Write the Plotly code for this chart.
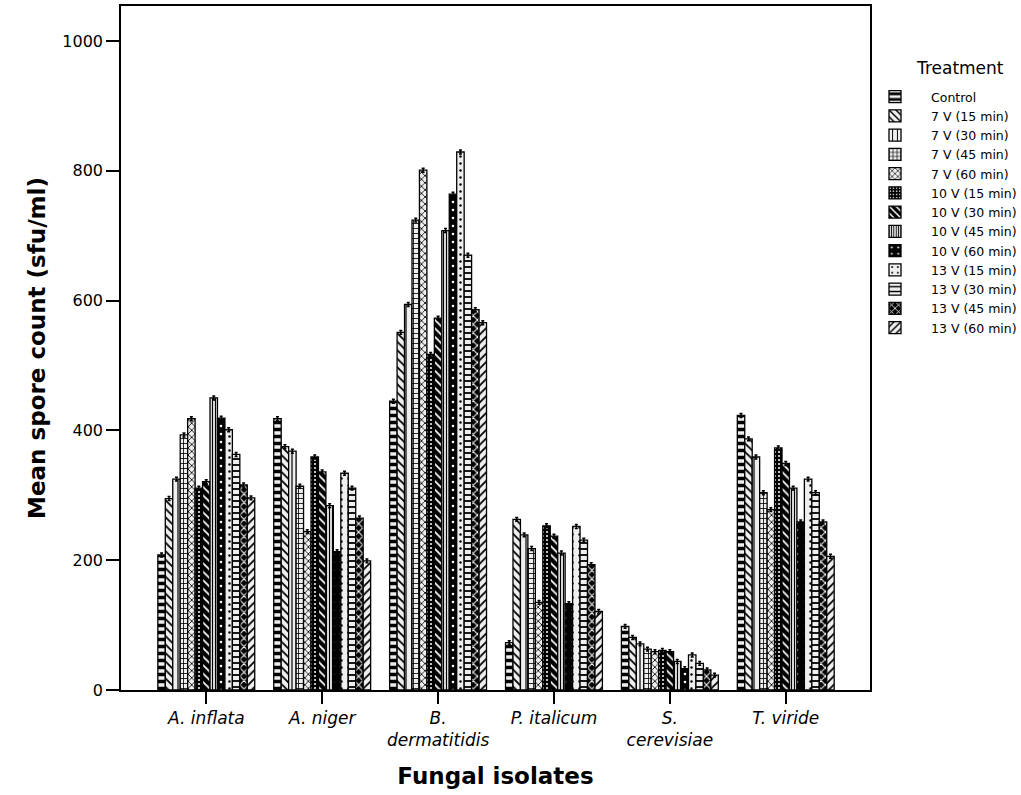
import plotly.graph_objects as go

categories = ["<i>A. inflata</i>", "<i>A. niger</i>", "<i>B.<br>dermatitidis</i>",
              "<i>P. italicum</i>", "<i>S.<br>cerevisiae</i>", "<i>T. viride</i>"]

treatments = ["Control", "7 V (15 min)", "7 V (30 min)", "7 V (45 min)", "7 V (60 min)",
              "10 V (15 min)", "10 V (30 min)", "10 V (45 min)", "10 V (60 min)",
              "13 V (15 min)", "13 V (30 min)", "13 V (45 min)", "13 V (60 min)"]

# values per treatment, in category order
control = [208, 418, 445, 73, 98, 423]
v7_15 = [295, 375, 551, 263, 81, 387]
v7_30 = [325, 368, 594, 239, 71, 359]
v7_45 = [393, 314, 724, 218, 63, 304]
v7_60 = [418, 244, 801, 135, 59, 278]
v10_15 = [311, 359, 517, 253, 61, 373]
v10_30 = [321, 336, 573, 237, 59, 349]
v10_45 = [450, 284, 708, 211, 44, 311]
v10_60 = [419, 213, 764, 133, 33, 259]
v13_15 = [401, 334, 829, 252, 54, 325]
v13_30 = [363, 311, 670, 231, 41, 304]
v13_45 = [316, 265, 586, 193, 31, 259]
v13_60 = [296, 199, 566, 121, 23, 206]

errors = [3, 3, 3, 3, 3, 3]

series = [control, v7_15, v7_30, v7_45, v7_60, v10_15, v10_30, v10_45, v10_60,
          v13_15, v13_30, v13_45, v13_60]

LIGHT = "#efefef"
patterns = [
    dict(shape="-", bgcolor=LIGHT, fgcolor="black", size=7, solidity=0.5),
    dict(shape="\\", bgcolor=LIGHT, fgcolor="black", size=6, solidity=0.3),
    dict(shape="|", bgcolor=LIGHT, fgcolor="black", size=6, solidity=0.2),
    dict(shape="+", bgcolor=LIGHT, fgcolor="black", size=5, solidity=0.3),
    dict(shape="x", bgcolor=LIGHT, fgcolor="black", size=5, solidity=0.3),
    dict(shape=".", bgcolor="black", fgcolor="white", size=4, solidity=0.2),
    dict(shape="\\", bgcolor="black", fgcolor="white", size=6, solidity=0.3),
    dict(shape="|", bgcolor=LIGHT, fgcolor="black", size=3, solidity=0.4),
    dict(shape=".", bgcolor="black", fgcolor="white", size=8, solidity=0.08),
    dict(shape=".", bgcolor=LIGHT, fgcolor="black", size=7, solidity=0.1),
    dict(shape="-", bgcolor=LIGHT, fgcolor="black", size=6, solidity=0.3),
    dict(shape="x", bgcolor="black", fgcolor="white", size=6, solidity=0.3),
    dict(shape="/", bgcolor=LIGHT, fgcolor="black", size=6, solidity=0.3),
]

fig = go.Figure()
for name, vals, pat in zip(treatments, series, patterns):
    fig.add_trace(go.Bar(
        name=name, x=categories, y=vals,
        marker=dict(color=pat["bgcolor"], line=dict(color="black", width=1.3),
                    pattern=dict(fillmode="replace", **pat)),
        error_y=dict(type="data", array=errors, color="black", thickness=1.5, width=1.5),
    ))

W, H = 1021, 795
L, R, T, B = 121, 151, 6, 105
plot_w = W - L - R
plot_h = H - T - B

FONT = "DejaVu Sans"
fig.update_layout(
    width=W, height=H,
    barmode="group", bargap=0.164, bargroupgap=0,
    plot_bgcolor="white", paper_bgcolor="white",
    margin=dict(l=L, r=R, t=T, b=B, autoexpand=False),
    font=dict(family=FONT, color="black"),
    legend=dict(
        font=dict(size=12.5, family=FONT),
        x=(859 - L) / plot_w, xanchor="left", y=1 - (82 - T) / plot_h, yanchor="top",
        bgcolor="rgba(0,0,0,0)", tracegroupgap=0, itemwidth=62,
    ),
    annotations=[dict(text="Treatment", x=(960 - L) / plot_w, y=1 - (68 - T) / plot_h,
                      xref="paper", yref="paper", xanchor="center", yanchor="middle",
                      showarrow=False, font=dict(size=17, family=FONT))],
    xaxis=dict(
        range=[-0.736, 5.727], showline=True, linecolor="black", linewidth=1.5,
        mirror=True, ticks="outside", ticklen=12, tickwidth=1.5, tickcolor="black",
        tickfont=dict(size=17, family=FONT),
        title=dict(text="<b>Fungal isolates</b>", font=dict(size=23, family=FONT), standoff=19),
        showgrid=False,
    ),
    yaxis=dict(
        range=[0, 1054], tickvals=[0, 200, 400, 600, 800, 1000],
        showline=True, linecolor="black", linewidth=1.5, mirror=True,
        ticks="outside", ticklen=13, tickwidth=1.5, tickcolor="black",
        tickfont=dict(size=16, family=FONT),
        title=dict(text="<b>Mean spore count (sfu/ml)</b>", font=dict(size=23, family=FONT), standoff=10),
        showgrid=False, zeroline=False,
    ),
)

fig.write_html("out.html", config={"displayModeBar": False},
               post_script="document.body.style.margin='0';document.body.style.overflow='hidden';")
